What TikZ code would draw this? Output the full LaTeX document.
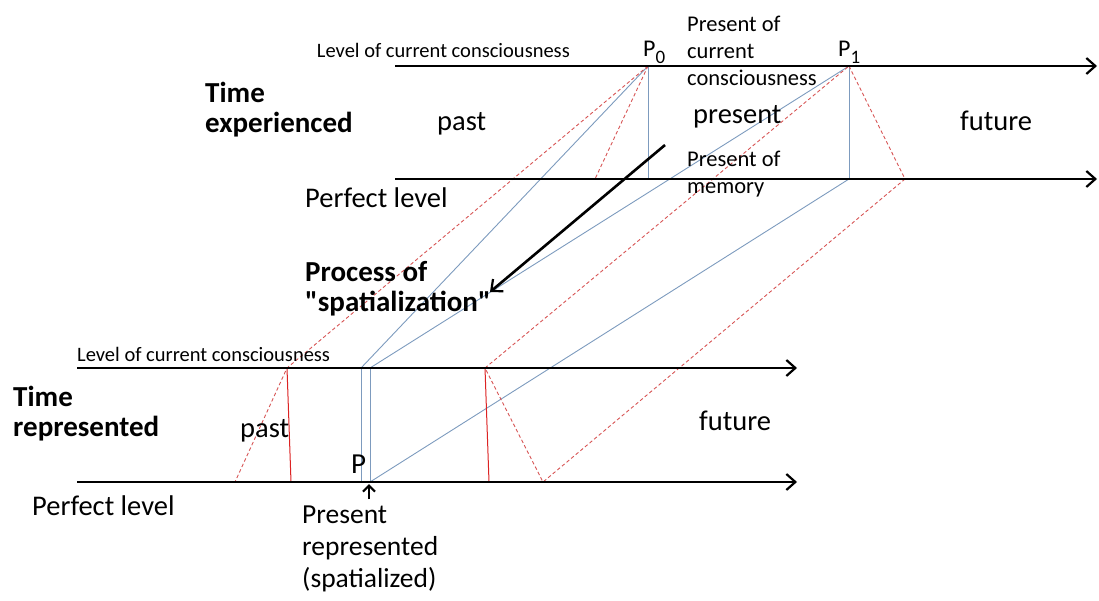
\documentclass[tikz,border=0pt]{standalone}
\usepackage{fontspec}
\setmainfont{Carlito}
\usetikzlibrary{arrows.meta}
\definecolor{projblue}{RGB}{125,155,190}
\definecolor{projred}{RGB}{215,85,85}
\definecolor{markred}{RGB}{220,35,35}
\begin{document}
\begin{tikzpicture}[x=1pt,y=-1pt,
  axis/.style={line width=2.6pt,-{Straight Barb[length=9pt,width=16pt,line width=2.2pt]}},
  bluel/.style={projblue,line width=0.9pt},
  reddash/.style={projred,line width=0.9pt,dash pattern=on 3.5pt off 2.5pt},
  redline/.style={markred,line width=1pt},
  bigarrow/.style={line width=2.6pt,-{Straight Barb[length=9pt,width=16pt,line width=2.2pt]}},
  lbl/.style={inner sep=0pt,anchor=base west},
  tiny/.style={font=\fontsize{20.5}{24}\selectfont},
  mid/.style={font=\fontsize{22.5}{27}\selectfont},
  big/.style={font=\fontsize{28.5}{32}\selectfont},
  head/.style={font=\bfseries\fontsize{29}{30}\selectfont},
  plbl/.style={font=\fontsize{24}{28}\selectfont}
]
\useasboundingbox (0,0) rectangle (1099,600);

% ---- points of the experienced time (upper pair of levels)
\coordinate (uL0) at (395,66);   \coordinate (uR0) at (1097,66);
\coordinate (uL1) at (395,179);  \coordinate (uR1) at (1097,179);
\coordinate (P0) at (648,66);    \coordinate (P0b) at (648,179);
\coordinate (P1) at (849,66);    \coordinate (P1b) at (849,179);
\coordinate (Q0) at (595,179);   \coordinate (Q1) at (905,179);

% ---- points of the represented time (lower pair of levels)
\coordinate (lL0) at (77,368);   \coordinate (lR0) at (797,368);
\coordinate (lL1) at (77,482);   \coordinate (lR1) at (797,482);
\coordinate (A) at (287,368);    \coordinate (Ab) at (291,482);  \coordinate (Ad) at (235,482);
\coordinate (B) at (361,368);    \coordinate (Bb) at (361,482);
\coordinate (C) at (370,368);    \coordinate (Cb) at (370,482);
\coordinate (D) at (485,368);    \coordinate (Db) at (489,482);  \coordinate (Dd) at (543,482);

% ---- blue projection lines
\draw[bluel] (P0) -- (P0b);
\draw[bluel] (P1) -- (P1b);
\draw[bluel] (P0) -- (B);
\draw[bluel] (P1) -- (C);
\draw[bluel] (P1b) -- (Cb);
\draw[bluel] (B) -- (Bb);
\draw[bluel] (C) -- (Cb);

% ---- red dashed projection lines
\draw[reddash] (P0) -- (Q0);
\draw[reddash] (P0) -- (A) -- (Ad);
\draw[reddash] (P1) -- (Q1) -- (Dd) -- (D) -- (P1);

% ---- red markers on the represented time
\draw[redline] (A) -- (Ab);
\draw[redline] (D) -- (Db);

% ---- levels
\draw[axis] (uL0) -- (uR0);
\draw[axis] (uL1) -- (uR1);
\draw[axis] (lL0) -- (lR0);
\draw[axis] (lL1) -- (lR1);

% ---- spatialization arrow
\coordinate (sA) at (665,145);
\coordinate (sB) at (490,292);
\draw[bigarrow] (sA) -- (sB);

% ---- present represented marker
\coordinate (mA) at (369,499);
\coordinate (mB) at (369,484);
\draw[line width=2.4pt,-{Straight Barb[length=6pt,width=12pt,line width=2.2pt]}] (mA) -- (mB);

% ---- labels, upper part (multi-line nodes are placed by their last baseline)
\node[lbl,tiny,anchor=base east] (lvlU) at (570,57) {Level of current consciousness};
\node[lbl,plbl] (p0) at (643,56) {P\raisebox{-7pt}{\fontsize{19}{19}\selectfont 0}};
\node[lbl,plbl] (p1) at (838,56) {P\raisebox{-7pt}{\fontsize{19}{19}\selectfont 1}};
\node[lbl,mid,align=left] (pcc) at (687,85) {Present of\\current\\consciousness};
\node[lbl,head,align=left] (texp) at (205,132) {Time\\experienced};
\node[lbl,big] (pastU) at (437,130) {past};
\node[lbl,big] (presU) at (693,123) {present};
\node[lbl,big] (futU) at (960,130) {future};
\node[lbl,mid,align=left] (pmem) at (687,193) {Present of\\memory};
\node[lbl,big] (perfU) at (305,207) {Perfect level};
\node[lbl,head,align=left] (proc) at (305,311) {Process of\\\textquotedbl spatialization\textquotedbl};

% ---- labels, lower part
\node[lbl,tiny] (lvlL) at (77,361) {Level of current consciousness};
\node[lbl,head,align=left] (trep) at (13,436) {Time\\represented};
\node[lbl,big] (pastL) at (240,437) {past};
\node[lbl,big] (futL) at (699,430) {future};
\node[lbl,font=\fontsize{29}{30}\selectfont] (pL) at (351,473) {P};
\node[lbl,big] (perfL) at (32,515) {Perfect level};
\node[lbl,align=left,font=\fontsize{27.5}{32}\selectfont] (prep) at (302,587) {Present\\represented\\(spatialized)};
\end{tikzpicture}
\end{document}
